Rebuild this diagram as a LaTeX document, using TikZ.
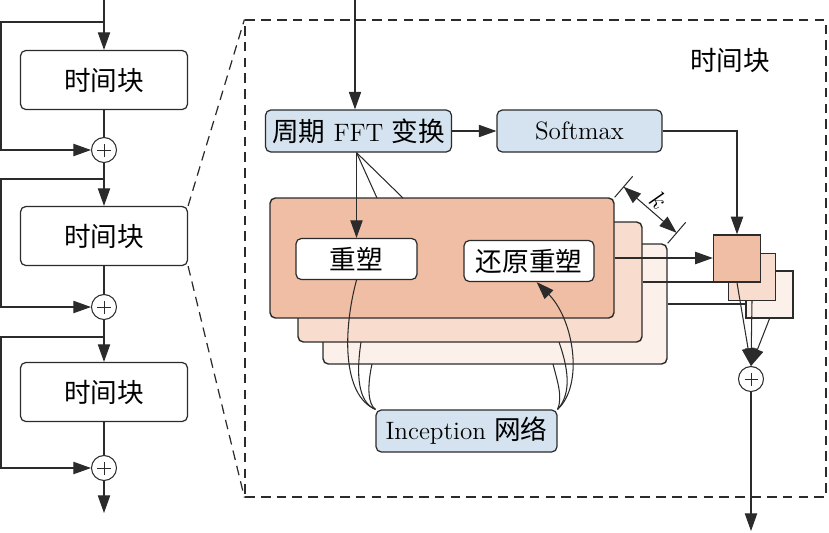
\documentclass[tikz,border=0pt]{standalone}
\usepackage{fontspec}
\usepackage{xcolor}
\usetikzlibrary{arrows.meta}
\newfontfamily\cjk[Scale=1.06]{Noto Sans CJK SC}
\definecolor{linec}{HTML}{2B2B2B}
\definecolor{paleblue}{HTML}{D4E3EF}
\definecolor{salmon}{HTML}{F0BEA4}
\definecolor{salmonlt}{HTML}{F8DCCD}
\definecolor{salmonxl}{HTML}{FCF1EA}

\begin{document}
\begin{tikzpicture}[x=0.02cm,y=-0.02cm,font=\fontsize{14.3}{17}\selectfont,
  line/.style={draw=linec,line width=0.6pt},
  tip/.style={-{Triangle[length=10pt,width=7pt]}},
  block/.style={draw=linec,line width=0.7pt,rounded corners=3pt,fill=white,minimum width=3.34cm,minimum height=1.18cm,inner sep=0pt},
  bluebox/.style={draw=linec,line width=0.7pt,rounded corners=3pt,fill=paleblue,minimum height=0.84cm,inner sep=0pt},
  whitebox/.style={draw=linec,line width=0.7pt,rounded corners=3pt,fill=white,minimum height=0.82cm,inner sep=0pt},
  layer/.style={draw=linec,line width=0.8pt,rounded corners=3pt,minimum width=6.88cm,minimum height=2.4cm,inner sep=0pt},
  sq/.style={draw=linec,line width=0.8pt,minimum size=0.94cm,inner sep=0pt},
  plus/.style={draw=linec,line width=0.6pt,circle,fill=white,minimum size=0.5cm,inner sep=0pt,
    path picture={\draw[linec,line width=0.5pt] (path picture bounding box.center) ++(-3.7pt,0) -- ++(7.4pt,0)
      (path picture bounding box.center) ++(0,-3.7pt) -- ++(0,7.4pt);}},
  zoomdash/.style={draw=linec,line width=0.7pt,dash pattern=on 5.5pt off 3.5pt}]
\useasboundingbox (0,0) rectangle (829,532);

% left column: three time blocks with skip connections
\node[block] (blk1) at (104,80) {\cjk 时间块};
\node[block] (blk2) at (104,236) {\cjk 时间块};
\node[block] (blk3) at (104,392) {\cjk 时间块};
\node[plus] (add1) at (104,150) {};
\node[plus] (add2) at (104,307) {};
\node[plus] (add3) at (104,468) {};
\coordinate (in0) at (104,0);
\coordinate (sk1) at (104,22);
\coordinate (sk2) at (104,179);
\coordinate (sk3) at (104,337);
\coordinate (out0) at (104,513);

\draw[line,tip] (in0) -- (blk1);
\draw[line] (blk1) -- (add1);
\draw[line,tip] (sk1) -- ++(-103,0) |- (add1);
\draw[line,tip] (add1) -- (blk2);
\draw[line] (blk2) -- (add2);
\draw[line,tip] (sk2) -- ++(-103,0) |- (add2);
\draw[line,tip] (add2) -- (blk3);
\draw[line] (blk3) -- (add3);
\draw[line,tip] (sk3) -- ++(-103,0) |- (add3);
\draw[line,tip] (add3) -- (out0);

% zoomed block
\node[zoomdash,minimum width=11.62cm,minimum height=9.54cm,inner sep=0pt] (zoom) at (535.5,258.5) {};
\draw[zoomdash] (blk2.north east) -- (zoom.north west);
\draw[zoomdash] (blk2.south east) -- (zoom.south west);
\node (ttl) at (730,60) {\cjk 时间块};

\node[bluebox,minimum width=3.72cm] (fft) at (358.5,131) {{\cjk 周期} FFT {\cjk 变换}};
\node[bluebox,minimum width=3.3cm] (soft) at (579.5,131) {Softmax};

\node[layer,fill=salmonxl] (layer3) at (495,304) {};
\node[layer,fill=salmonlt] (layer2) at (470,282) {};
\node[layer,fill=salmon] (layer1) at (442,258) {};
\node[whitebox,minimum width=2.42cm] (rs) at (356.5,259) {\cjk 重塑};
\node[whitebox,minimum width=2.6cm] (ri) at (529,261) {\cjk 还原重塑};
\node[bluebox,minimum width=3.62cm] (inc) at (466.5,431) {Inception {\cjk 网络}};

\node[sq,fill=salmonxl] (s3) at (769.5,294.5) {};
\node[sq,fill=salmonlt] (s2) at (752,277) {};
\node[sq,fill=salmon] (s1) at (737,258.5) {};
\node[plus] (add4) at (751,379) {};

\coordinate (in1) at (355,0);
\coordinate (f2) at (377,198);
\coordinate (f3) at (403,198);
\coordinate (out1) at (751,531);
\draw[line,tip] (in1) -- (in1 |- fft.north);
\draw[line,tip] (fft) -- (soft);
\draw[line,tip] (soft) -| (s1);
\draw[line,tip] (fft.south -| rs) -- (rs);
\draw[line] (fft.south -| rs) -- (f2);
\draw[line] (fft.south -| rs) -- (f3);

% period dimension
\draw[line] (layer1.north east) -- ++(18,-21) coordinate[pos=0.5] (k1);
\draw[line] (layer3.north east) -- ++(18,-21) coordinate[pos=0.5] (k2);
\draw[line,{Triangle[length=10pt,width=7pt]}-{Triangle[length=10pt,width=7pt]}] (k1) -- (k2)
  node[midway,sloped,above,inner sep=2pt] {$k$};

% to and from the inception net
\coordinate (c2) at (361,342);
\coordinate (c3) at (372,364);
\coordinate (d2) at (559,342);
\coordinate (d3) at (553,364);
\draw[line] (rs.south) .. controls (343,330) and (342,395) .. (inc.north west);
\draw[line] (c2) .. controls (356,375) and (358,402) .. (inc.north west);
\draw[line] (c3) .. controls (367,387) and (368,404) .. (inc.north west);
\draw[line,tip] (inc.north east) .. controls (584,385) and (574,320) .. (ri.290);
\draw[line] (inc.north east) .. controls (573,392) and (567,365) .. (d2);
\draw[line] (inc.north east) .. controls (563,397) and (557,380) .. (d3);

% aggregation
\draw[line,tip] (layer1.east) -- (layer1.east -| s1.west);
\draw[line] (layer2.east) -- (layer2.east -| s2.west);
\draw[line] (layer3.east) -- (layer3.east -| s3.west);
\draw[line,tip] (s1.south) -- (add4.north);
\draw[line,tip] (s2.south) -- (add4.north);
\draw[line,tip] (s3.south) -- (add4.north);
\draw[line,tip] (add4) -- (out1);
\end{tikzpicture}
\end{document}
